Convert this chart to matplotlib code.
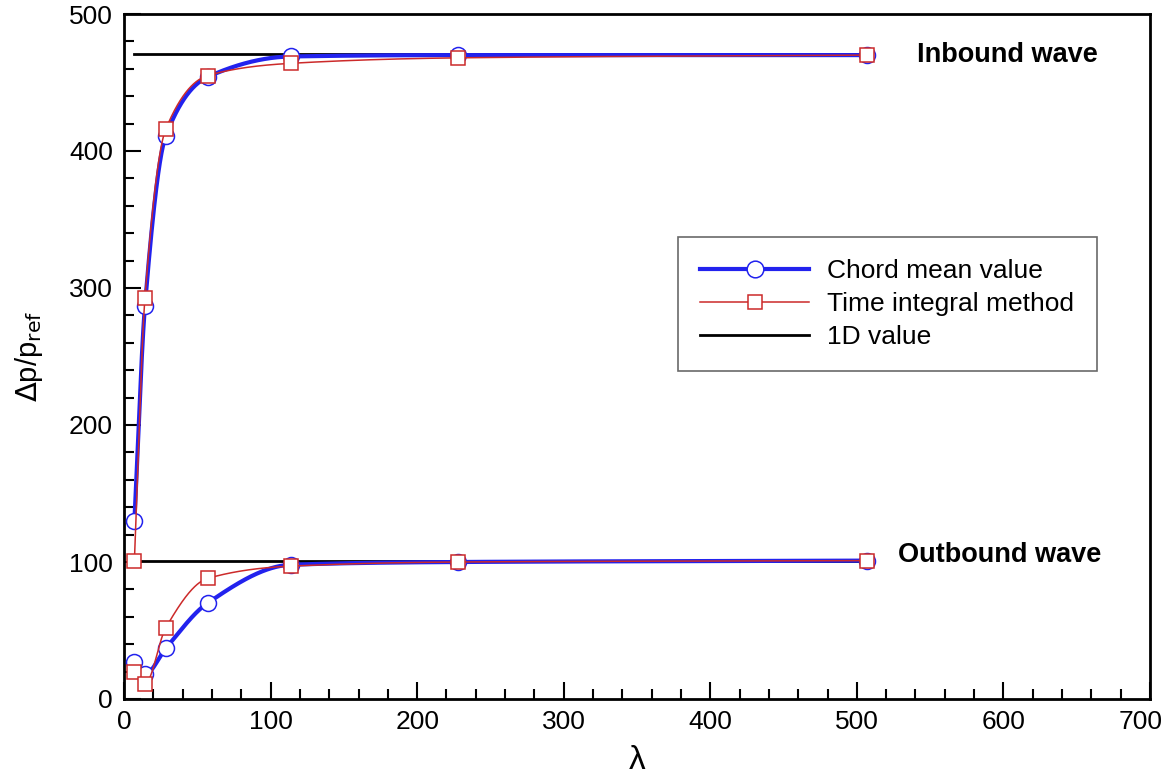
import numpy as np
import matplotlib
matplotlib.use("Agg")
import matplotlib.pyplot as plt
from matplotlib.ticker import MultipleLocator
from matplotlib.transforms import ScaledTranslation

plt.rcParams['font.family'] = ['Liberation Sans', 'DejaVu Sans']

# Data
lam = [7.1, 14.3, 28.5, 57, 114, 228, 507]

in_chord = [130, 287, 411, 454, 469, 470, 470]
in_time = [101, 293, 416, 455, 464, 468, 470]
out_chord = [27, 18, 37, 70, 98, 100, 101]
out_time = [20, 11, 52, 88, 97, 100, 101]

oned_x = [7.1, 507]
oned_in = [471, 471]
oned_out = [101, 101]


def pchip(x, y, xs):
    # monotone cubic Hermite curve through the points (only used to draw a smooth line)
    x = np.asarray(x, float)
    y = np.asarray(y, float)
    h = np.diff(x)
    d = np.diff(y) / h
    n = len(x)
    m = np.zeros(n)
    for k in range(1, n - 1):
        if d[k - 1] * d[k] > 0:
            w1 = 2 * h[k] + h[k - 1]
            w2 = h[k] + 2 * h[k - 1]
            m[k] = (w1 + w2) / (w1 / d[k - 1] + w2 / d[k])
    m[0] = d[0]
    m[-1] = d[-1]
    i = np.clip(np.searchsorted(x, xs) - 1, 0, n - 2)
    t = (xs - x[i]) / h[i]
    h00 = 2 * t**3 - 3 * t**2 + 1
    h10 = t**3 - 2 * t**2 + t
    h01 = -2 * t**3 + 3 * t**2
    h11 = t**3 - t**2
    return h00 * y[i] + h10 * h[i] * m[i] + h01 * y[i + 1] + h11 * h[i] * m[i + 1]


xs = np.concatenate([np.linspace(lam[0], 120, 600), np.linspace(120, lam[-1], 300)])

fig = plt.figure(figsize=(11.64, 7.82), dpi=100)
ax = fig.add_axes([124 / 1164, 1 - 699 / 782, (1150 - 124) / 1164, (699 - 14) / 782])

blue = '#2222ee'
red = '#cc2a2a'

for yc in [in_chord, out_chord]:
    ax.plot(xs, pchip(lam, yc, xs), color=blue, lw=3, zorder=3)
    ax.plot(lam, yc, ls='none', marker='o', ms=11.5, mfc='white', mec=blue, mew=1.1, zorder=4)
for yt in [in_time, out_time]:
    ax.plot(xs, pchip(lam, yt, xs), color=red, lw=1.1, zorder=5)
    ax.plot(lam, yt, ls='none', marker='s', ms=9.5, mfc='white', mec=red, mew=1.1, zorder=6)

ax.plot(oned_x, oned_in, color='black', lw=2, zorder=2)
ax.plot(oned_x, oned_out, color='black', lw=2, zorder=2)

# legend proxies
ax.plot([], [], color=blue, lw=3, marker='o', ms=12, mfc='white', mec=blue, mew=1.1, label='Chord mean value')
ax.plot([], [], color=red, lw=1.1, marker='s', ms=9.5, mfc='white', mec=red, mew=1.1, label='Time integral method')
ax.plot([], [], color='black', lw=2, label='1D value')
leg = ax.legend(loc='upper left', bbox_to_anchor=(678 / 1164, 1 - 237 / 782), bbox_transform=fig.transFigure,
                borderaxespad=0, fontsize=19, frameon=True, fancybox=False, edgecolor='#444444',
                handlelength=4.1, borderpad=0.85, labelspacing=0.33, handletextpad=0.7)
leg.get_frame().set_linewidth(1.2)

ax.text(1007 / 1164, 1 - 55 / 782, 'Inbound wave', transform=fig.transFigure, fontsize=19.5,
        fontweight='bold', ha='center', va='center')
ax.text(1000 / 1164, 1 - 555 / 782, 'Outbound wave', transform=fig.transFigure, fontsize=19.5,
        fontweight='bold', ha='center', va='center')

ax.set_xlim(0, 700)
ax.set_ylim(0, 500)
ax.set_xticks(np.arange(0, 701, 100))
ax.xaxis.set_minor_locator(MultipleLocator(20))
ax.set_yticks(np.arange(0, 501, 100))
ax.yaxis.set_minor_locator(MultipleLocator(20))
ax.tick_params(which='both', direction='in', top=False, right=False, labelsize=19, width=1.5)
ax.tick_params(which='major', length=12, pad=8)
ax.tick_params(which='minor', length=7)
for s in ax.spines.values():
    s.set_linewidth(2)

ax.set_xlabel('λ', fontsize=24, labelpad=8)
ax.set_ylabel(r'$\Delta$p/p$_{\mathrm{ref}}$', fontsize=21, labelpad=17)

# keep the last x tick label (700) inside the picture
lbl = ax.xaxis.get_major_ticks()[-1].label1
lbl.set_transform(lbl.get_transform() + ScaledTranslation(-9 / 100, 0, fig.dpi_scale_trans))

fig.savefig('out.png', dpi=100)
